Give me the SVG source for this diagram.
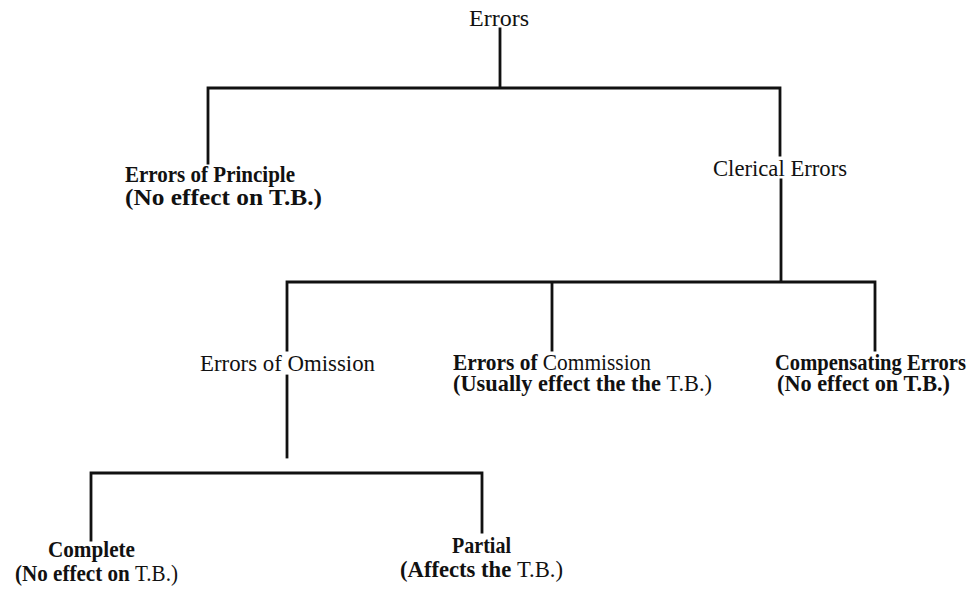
<svg xmlns="http://www.w3.org/2000/svg" width="975" height="595" viewBox="0 0 975 595">
<style>
text{font-family:"Liberation Serif","Times New Roman",serif;font-size:24px;fill:#111}
.b{font-weight:bold}
.n{font-weight:normal}
#connectors path{fill:none;stroke:#111;stroke-width:2.8;stroke-linecap:square}
</style>
<rect width="975" height="595" fill="#fff"/>
<g id="connectors">
<path d="M500 29 V88 M208 163 V88 H780 V155"/>
<path d="M781 180 V282 M287 350 V282 H875 V350 M552 282 V350"/>
<path d="M287 376 V457"/>
<path d="M91 540 V473 H482 V532"/>
</g>
<g id="n-errors"><text x="469" y="26" textLength="60" lengthAdjust="spacingAndGlyphs">Errors</text></g>
<g id="n-principle">
<text class="b" x="125" y="182" textLength="170" lengthAdjust="spacingAndGlyphs">Errors of Principle</text>
<text class="b" x="125" y="205" textLength="197" lengthAdjust="spacingAndGlyphs">(No effect on T.B.)</text>
</g>
<g id="n-clerical"><text x="713" y="176" textLength="134" lengthAdjust="spacingAndGlyphs">Clerical Errors</text></g>
<g id="n-omission"><text x="200" y="371" textLength="175" lengthAdjust="spacingAndGlyphs">Errors of Omission</text></g>
<g id="n-commission">
<text x="453" y="370" textLength="198" lengthAdjust="spacingAndGlyphs"><tspan class="b">Errors of </tspan><tspan>Commission</tspan></text>
<text x="453" y="391" textLength="259" lengthAdjust="spacingAndGlyphs"><tspan class="b">(Usually effect the the </tspan><tspan>T.B.)</tspan></text>
</g>
<g id="n-compensating">
<text class="b" x="775" y="370" textLength="191" lengthAdjust="spacingAndGlyphs">Compensating Errors</text>
<text class="b" x="777" y="391" textLength="173" lengthAdjust="spacingAndGlyphs">(No effect on T.B.)</text>
</g>
<g id="n-complete">
<text class="b" x="48" y="557" textLength="87" lengthAdjust="spacingAndGlyphs">Complete</text>
<text x="15" y="581" textLength="163" lengthAdjust="spacingAndGlyphs"><tspan class="b">(No effect on </tspan><tspan>T.B.)</tspan></text>
</g>
<g id="n-partial">
<text class="b" x="452" y="553" textLength="59" lengthAdjust="spacingAndGlyphs">Partial</text>
<text x="400" y="577" textLength="163" lengthAdjust="spacingAndGlyphs"><tspan class="b">(Affects the </tspan><tspan>T.B.)</tspan></text>
</g>
</svg>
